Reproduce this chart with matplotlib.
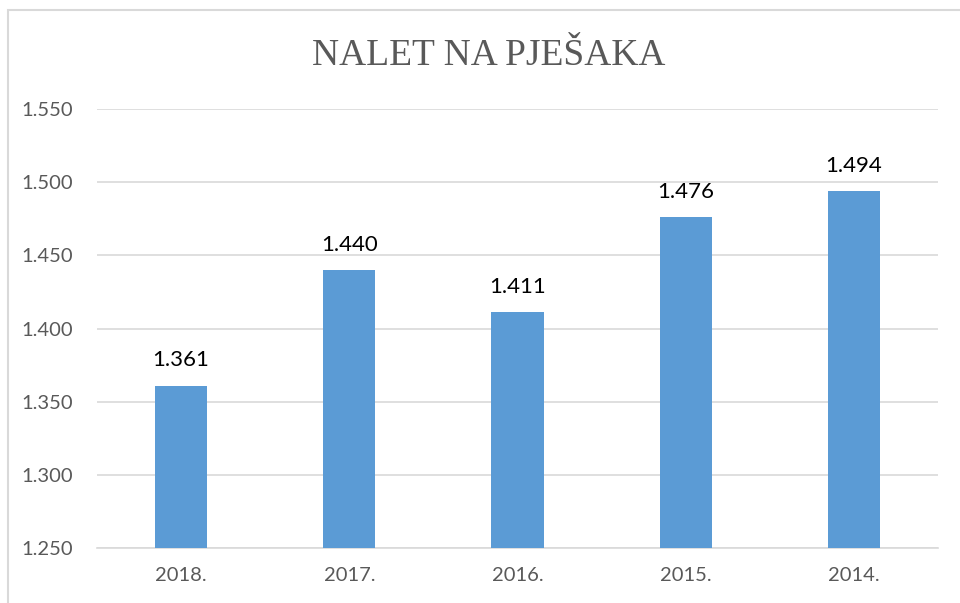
import matplotlib.pyplot as plt
from matplotlib.patches import Rectangle

# data
years = ['2018.', '2017.', '2016.', '2015.', '2014.']
values = [1361, 1440, 1411, 1476, 1494]
y_ticks = [1250, 1300, 1350, 1400, 1450, 1500, 1550]


def fmt(v):
    return f'{v:,}'.replace(',', '.')


plt.rcParams['font.family'] = ['Lato', 'DejaVu Sans']

fig = plt.figure(figsize=(9.6, 6.03), dpi=100)
ax = fig.add_axes([97 / 960, 55 / 603, 841 / 960, 439 / 603])

x = range(len(years))
ax.bar(x, values, width=0.31, color='#5B9BD5', zorder=3)

for xi, v in zip(x, values):
    ax.annotate(fmt(v), (xi, v), xytext=(0, 14), textcoords='offset points',
                ha='center', va='baseline', fontsize=16, color='black')

ax.set_ylim(1250, 1550)
ax.set_xlim(-0.5, len(years) - 0.5)
ax.set_yticks(y_ticks)
ax.set_yticklabels([fmt(t) for t in y_ticks])
ax.set_xticks(list(x))
ax.set_xticklabels(years)
ax.tick_params(axis='both', length=0, labelsize=14.5, labelcolor='#595959')
ax.tick_params(axis='y', pad=17)
ax.tick_params(axis='x', pad=14)

ax.grid(axis='y', color='#d9d9d9', linewidth=1.2, zorder=0)
for s in ['top', 'right', 'left']:
    ax.spines[s].set_visible(False)
ax.spines['bottom'].set_color('#d9d9d9')
ax.spines['bottom'].set_linewidth(1.2)

fig.text(488.5 / 960, 1 - 65 / 603, 'NALET NA PJEŠAKA', ha='center', va='baseline',
         fontsize=27, color='#595959', family=['Liberation Serif', 'DejaVu Serif'])

# outer chart frame (left and top edges visible)
fig.add_artist(Rectangle((8 / 960, -0.1), 1.2, 1.1 - 10 / 603, transform=fig.transFigure,
                         fill=False, edgecolor='#d9d9d9', linewidth=1.5))

fig.savefig('out.png', dpi=100)
